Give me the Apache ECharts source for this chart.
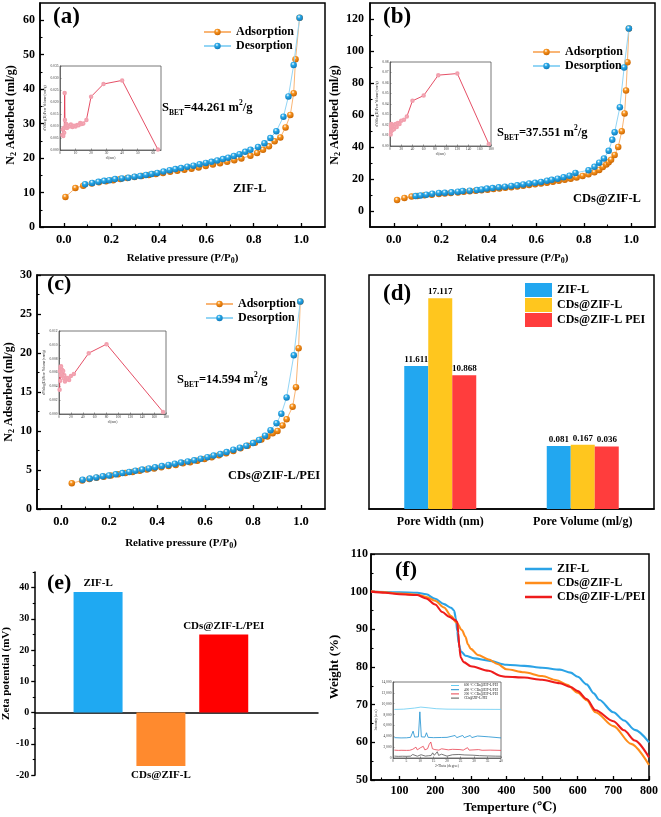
<!DOCTYPE html>
<html><head><meta charset="utf-8">
<script src="https://cdn.jsdelivr.net/npm/echarts@6/dist/echarts.min.js"></script>
<style>html,body{margin:0;padding:0;background:#fff}#c{width:661px;height:817px}</style>
</head><body><div id="c"></div>
<script>
// ---------------- DATA ----------------
// (a) ZIF-L isotherm  [P/P0, ml/g]
const adsA = [[0.007,8.7],[0.049,11.3],[0.082,12.0],[0.118,12.6],[0.148,13.0],[0.178,13.3],[0.208,13.6],[0.238,13.9],[0.268,14.2],[0.298,14.5],[0.328,14.8],[0.358,15.1],[0.388,15.4],[0.418,15.7],[0.448,16.0],[0.478,16.3],[0.508,16.6],[0.538,16.9],[0.568,17.3],[0.598,17.7],[0.628,18.1],[0.658,18.5],[0.688,18.9],[0.718,19.4],[0.748,19.9],[0.786,20.7],[0.814,21.5],[0.839,22.4],[0.864,23.4],[0.888,24.9],[0.912,26.0],[0.934,28.9],[0.954,32.5],[0.968,38.8],[0.976,48.7],[0.993,60.7]];
const desA = [[0.09,12.4],[0.12,12.8],[0.146,13.1],[0.17,13.4],[0.192,13.6],[0.216,13.9],[0.245,14.1],[0.272,14.3],[0.298,14.6],[0.322,14.8],[0.346,15.1],[0.37,15.4],[0.394,15.7],[0.42,16.1],[0.446,16.5],[0.47,16.8],[0.494,17.1],[0.52,17.5],[0.546,17.8],[0.572,18.2],[0.598,18.6],[0.622,18.9],[0.646,19.3],[0.67,19.7],[0.692,20.1],[0.716,20.6],[0.74,21.1],[0.764,21.8],[0.786,22.4],[0.818,23.2],[0.845,24.3],[0.87,25.8],[0.895,27.8],[0.925,32.0],[0.946,37.9],[0.968,47.0],[0.993,60.7]];
// (b) CDs@ZIF-L isotherm
const adsB = [[0.014,6.8],[0.045,8.1],[0.075,9.0],[0.1,9.4],[0.13,9.8],[0.16,10.2],[0.19,10.6],[0.215,11.0],[0.24,11.3],[0.27,11.6],[0.295,12.0],[0.32,12.3],[0.345,12.6],[0.37,13.0],[0.395,13.3],[0.42,13.7],[0.445,14.1],[0.47,14.5],[0.495,14.9],[0.52,15.3],[0.545,15.8],[0.57,16.2],[0.595,16.7],[0.62,17.2],[0.645,17.7],[0.67,18.3],[0.695,18.9],[0.72,19.5],[0.745,20.2],[0.77,21.0],[0.795,21.9],[0.82,22.9],[0.845,24.2],[0.865,25.7],[0.88,27.5],[0.895,29.0],[0.905,30.5],[0.915,32.0],[0.93,35.0],[0.945,40.0],[0.96,49.8],[0.972,61.0],[0.978,75.3],[0.984,93.0],[0.99,114]];
const desB = [[0.092,9.3],[0.113,9.7],[0.137,10.2],[0.162,10.8],[0.19,11.3],[0.215,11.4],[0.243,11.7],[0.27,12.1],[0.29,12.5],[0.32,12.7],[0.35,13.1],[0.37,13.5],[0.392,14.0],[0.416,14.3],[0.442,14.8],[0.468,15.2],[0.495,15.7],[0.52,16.1],[0.545,16.6],[0.57,17.2],[0.595,17.6],[0.62,18.2],[0.645,18.9],[0.665,19.5],[0.69,20.2],[0.715,21.1],[0.74,22.0],[0.765,23.8],[0.82,25.5],[0.845,27.6],[0.865,30.2],[0.885,32.8],[0.905,37.6],[0.92,44.5],[0.93,49.2],[0.952,64.8],[0.97,89.7],[0.99,114]];
// (c) CDs@ZIF-L/PEI isotherm
const adsC = [[0.045,3.3],[0.088,3.65],[0.118,3.85],[0.148,4.0],[0.178,4.15],[0.208,4.3],[0.238,4.45],[0.268,4.6],[0.298,4.75],[0.328,4.9],[0.358,5.05],[0.388,5.2],[0.418,5.35],[0.448,5.5],[0.478,5.65],[0.508,5.85],[0.538,6.0],[0.568,6.2],[0.598,6.4],[0.628,6.65],[0.658,6.9],[0.688,7.15],[0.718,7.45],[0.748,7.8],[0.778,8.1],[0.808,8.5],[0.835,8.9],[0.86,9.3],[0.882,9.7],[0.902,10.0],[0.923,10.7],[0.94,11.5],[0.965,13.1],[0.979,15.6],[0.99,20.6],[0.997,26.6]];
const desC = [[0.09,3.75],[0.12,3.9],[0.147,4.05],[0.174,4.2],[0.2,4.3],[0.228,4.45],[0.256,4.6],[0.284,4.75],[0.31,4.9],[0.338,5.05],[0.366,5.2],[0.392,5.35],[0.42,5.5],[0.448,5.65],[0.474,5.8],[0.5,5.95],[0.528,6.1],[0.555,6.25],[0.582,6.45],[0.61,6.65],[0.636,6.85],[0.664,7.05],[0.69,7.3],[0.718,7.6],[0.745,7.85],[0.772,8.1],[0.8,8.45],[0.825,8.85],[0.85,9.4],[0.873,10.1],[0.898,11.0],[0.918,12.2],[0.94,14.3],[0.97,19.7],[0.997,26.6]];
// pore size distribution insets [d nm, dV/dlogD]
const psdA = [[1.5,0.0062],[1.8,0.0085],[2.1,0.0058],[2.4,0.0092],[2.7,0.0072],[3.0,0.0238],[3.2,0.0125],[3.5,0.0095],[4,0.0108],[4.5,0.0092],[5,0.0102],[6,0.0098],[7,0.0106],[8,0.0096],[9,0.0101],[10,0.0098],[11,0.0104],[12,0.0103],[13,0.0112],[14,0.0108],[15,0.011],[17,0.0125],[20,0.0222],[28,0.0275],[40,0.029],[63,0.0002]];
const psdB = [[1.2,0.011],[1.6,0.019],[2,0.014],[2.4,0.021],[2.8,0.016],[3.3,0.02],[3.8,0.015],[4.3,0.019],[5,0.017],[6,0.02],[7,0.016],[8,0.019],[10,0.021],[12,0.018],[14,0.022],[17,0.021],[20,0.024],[25,0.025],[30,0.028],[40,0.043],[60,0.048],[86,0.0675],[120,0.069],[176,0.002]];
const psdC = [[1,0.0035],[1.5,0.0062],[2,0.0048],[2.5,0.0068],[3,0.0056],[3.5,0.0069],[4,0.0058],[5,0.0064],[6,0.0055],[7,0.0062],[8,0.0052],[9,0.0056],[10,0.0047],[12,0.0050],[14,0.0052],[17,0.0049],[20,0.0055],[25,0.0058],[50,0.0088],[80,0.0101],[175,0.0003]];
// (d) pore structure
const poreCats = ['Pore Width (nm)', 'Pore Volume (ml/g)'];
const sampleD = ['ZIF-L', 'CDs@ZIF-L', 'CDs@ZIF-L PEI'];
const poreWidth = [11.611, 17.117, 10.868];
const poreVolume = [0.081, 0.167, 0.036];
const poreVolumeBar = [5.12, 5.22, 5.08]; // bar heights as drawn in the figure (pore-width axis units)
// (e) zeta potential
const zetaNames = ['ZIF-L', 'CDs@ZIF-L', 'CDs@ZIF-L/PEI'];
const zetaSlot = [1, 2, 3];
const zeta = [38.6, -17.1, 25.0];
// (f) TGA [T °C, wt %]
const tgaZ = [[20,100],[60,99.9],[100,99.8],[150,99.7],[175,99.3],[200,98.1],[225,96.7],[245,95.7],[253,95.0],[258,93.0],[262,89.5],[266,86.3],[272,84.2],[285,83.0],[310,82.3],[350,81.7],[400,80.6],[450,80.3],[500,79.8],[550,79.3],[580,78.5],[600,77.4],[625,75.4],[645,73.0],[660,71.3],[700,68.0],[730,65.8],[760,63.3],[800,60.0]];
const tgaC = [[20,100.1],[60,99.8],[100,99.5],[150,99.2],[175,98.6],[200,97.6],[225,95.8],[245,93.5],[260,91.8],[275,89.8],[285,88.0],[292,86.0],[300,84.8],[320,83.2],[350,82.0],[375,80.8],[400,79.4],[450,78.6],[500,77.6],[540,76.5],[570,75.3],[600,73.2],[625,71.2],[650,68.0],[700,64.3],[750,59.6],[800,54.0]];
const tgaP = [[20,100],[60,99.7],[100,99.3],[150,99.1],[175,98.2],[200,96.6],[220,94.6],[240,93.3],[255,92.5],[262,92.0],[265,89],[268,85],[272,82.5],[280,81.3],[300,80.2],[350,79.0],[385,77.6],[400,77.4],[450,77.2],[500,76.6],[550,75.7],[580,74.7],[600,73.6],[625,71.5],[650,68.5],[700,65.6],[730,63.2],[760,60.5],[800,56.0]];
const tgaNames = ['ZIF-L', 'CDs@ZIF-L', 'CDs@ZIF-L/PEI'];
// (f) inset XRD [2θ, intensity]
const xrdNames = ['600 °C CDs@ZIF-L/PEI', '400 °C CDs@ZIF-L/PEI', '200 °C CDs@ZIF-L/PEI', 'CDs@ZIF-L/PEI'];
const xrd600 = [[0.5,8950],[4,9000],[8,9200],[10.3,9380],[13,9250],[16,9080],[20,9000],[30,8970],[40,8950]];
const xrd400 = [[0.5,3750],[3,3700],[5,3720],[6.5,3800],[7.45,4950],[8,3850],[9.4,3900],[9.95,8500],[10.5,3900],[11.8,3850],[12.4,4650],[13,3800],[15,3750],[18,3780],[20,3800],[23,4150],[23.6,3750],[25.8,4150],[26.4,3750],[28.6,4150],[29.2,3760],[31.3,4050],[32,3740],[35.5,3900],[36,3720],[40,3700]];
const xrd200 = [[0.5,1450],[2,1400],[2.5,1700],[3,1420],[5,1400],[5.6,1750],[6.2,1420],[7.3,1600],[8.5,2000],[9,1500],[10.2,1900],[10.7,1550],[11.2,2150],[11.8,1500],[12.8,1700],[13.4,2500],[14.0,2950],[14.6,1700],[15.5,1550],[17,1450],[18,1700],[18.5,1450],[20.5,1500],[22,1600],[24.8,1550],[26,1450],[27.6,1900],[28.2,1450],[30,1500],[31.7,1550],[33,1420],[36,1450],[40,1400]];
const xrdRaw = [[0.5,350],[2,300],[3.5,330],[5,310],[6.5,340],[7.3,650],[7.8,360],[9,330],[10.4,600],[10.9,380],[12,350],[12.7,700],[13.2,420],[14.1,450],[14.7,950],[15.3,500],[16,650],[16.4,1150],[16.9,480],[18,700],[18.5,380],[20,340],[22,600],[22.5,360],[24.4,650],[24.9,380],[26.6,560],[27.1,360],[29.6,520],[30.1,340],[32,430],[32.5,330],[35,380],[35.5,320],[38,340],[40,330]];
// tick lists
const pTicks = [0, 0.2, 0.4, 0.6, 0.8, 1.0];
const pMinor = [0.1, 0.3, 0.5, 0.7, 0.9];
const yTicksA = [0, 10, 20, 30, 40, 50, 60];
const yMinorA = [5, 15, 25, 35, 45, 55];
const yTicksB = [0, 20, 40, 60, 80, 100, 120];
const yMinorB = [10, 30, 50, 70, 90, 110];
const yTicksC = [0, 5, 10, 15, 20, 25, 30];
const yMinorC = [2.5, 7.5, 12.5, 17.5, 22.5, 27.5];
const zetaTicks = [-20, -10, 0, 10, 20, 30, 40];
const zetaMinor = [-15, -5, 5, 15, 25, 35, 45];
const tempTicks = [100, 200, 300, 400, 500, 600, 700, 800];
const tempMinor = [50, 150, 250, 350, 450, 550, 650, 750];
const wTicks = [50, 60, 70, 80, 90, 100, 110];
const wMinor = [55, 65, 75, 85, 95, 105];

// ---------------- BUILD ----------------
const FONT = '"Times New Roman","Liberation Serif","DejaVu Serif",serif';
const ts = (size, extra) => Object.assign({fontFamily: FONT, fontWeight: 'bold', fontSize: size, color: '#000'}, extra || {});
const grids = [], xAxes = [], yAxes = [], series = [], legends = [], graphics = [];
const grid = (l, t, w, h, extra) => { grids.push(Object.assign({left: l, top: t, width: w, height: h}, extra || {})); return grids.length - 1; };
const xa = o => { xAxes.push(o); return xAxes.length - 1; };
const ya = o => { yAxes.push(o); return yAxes.length - 1; };
const BL = {show: true, onZero: false, lineStyle: {color: '#000', width: 1.5}};
const TK = (vals, inside) => ({show: true, customValues: vals, length: 4, inside: inside, lineStyle: {color: '#000', width: 1.3}});
// minor tick overlays (no line, no labels)
const minorX = (gi, min, max, vals, inside) => xa({gridIndex: gi, type: 'value', position: 'bottom', min: min, max: max,
  axisLine: {show: false, onZero: false}, axisLabel: {show: false}, splitLine: {show: false},
  axisTick: {show: true, inside: inside, customValues: vals, length: 2.5, lineStyle: {color: '#000', width: 1.1}}});
const minorY = (gi, min, max, vals, inside) => ya({gridIndex: gi, type: 'value', position: 'left', min: min, max: max,
  axisLine: {show: false, onZero: false}, axisLabel: {show: false}, splitLine: {show: false},
  axisTick: {show: true, inside: inside, customValues: vals, length: 2.5, lineStyle: {color: '#000', width: 1.1}}});
const ORANGE = '#F7931E', BLUE = '#29A9E8';
const ball = (c, dark) => ({type: 'radial', x: 0.4, y: 0.32, r: 0.7, colorStops: [{offset: 0, color: '#ffffff'}, {offset: 0.35, color: c}, {offset: 1, color: dark}]});
const subRich = {s: ts(8, {lineHeight: 8, verticalAlign: 'bottom'})};

function iso(key, g, ymin, ymax, yTicks, yMinor, ads, des, o) {
  const gi = grid(g[0], g[1], g[2], g[3], {show: true, borderColor: '#000', borderWidth: 1.5});
  const xi = xa({gridIndex: gi, type: 'value', position: 'bottom', min: -0.1, max: 1.1, axisLine: BL, axisTick: TK(pTicks, true),
    axisLabel: Object.assign({customValues: pTicks, formatter: v => v.toFixed(1), margin: 6}, ts(12.5)), splitLine: {show: false},
    name: 'Relative pressure (P/P{s|0})', nameLocation: 'middle', nameGap: o.xg,
    nameTextStyle: ts(11, {lineHeight: 14, rich: subRich})});
  const yi = ya({gridIndex: gi, type: 'value', position: 'left', min: ymin, max: ymax, axisLine: BL, axisTick: TK(yTicks, true),
    axisLabel: Object.assign({customValues: yTicks, margin: o.ym}, ts(12)), splitLine: {show: false},
    name: 'N{s|2} Adsorbed (ml/g)', nameLocation: 'middle', nameGap: o.yg,
    nameTextStyle: ts(12, {lineHeight: 14, rich: subRich})});
  minorX(gi, -0.1, 1.1, pMinor, true);
  minorY(gi, ymin, ymax, yMinor, true);
  series.push({name: key + ':Adsorption', type: 'line', xAxisIndex: xi, yAxisIndex: yi, data: ads, symbol: 'circle', symbolSize: 6.5,
    color: ORANGE, lineStyle: {color: '#F9B575', width: 1}, itemStyle: {color: ball(ORANGE, '#C96400')}, z: 3});
  series.push({name: key + ':Desorption', type: 'line', xAxisIndex: xi, yAxisIndex: yi, data: des, symbol: 'circle', symbolSize: 6.5,
    color: BLUE, lineStyle: {color: '#93D5F5', width: 1}, itemStyle: {color: ball(BLUE, '#0F78B8')}, z: 4});
  legends.push({left: o.lx, top: o.ly, orient: 'vertical', itemWidth: 27, itemHeight: 8, itemGap: 2, padding: 0, selectedMode: false,
    data: [key + ':Adsorption', key + ':Desorption'], formatter: n => n.slice(2), textStyle: ts(12)});
}
iso('a', [40, 3, 285, 224], 0, 65, yTicksA, yMinorA, adsA, desA, {xg: 24, ym: 5, yg: 22, lx: 203, ly: 26});
iso('b', [370, 3, 285, 224], -10, 130, yTicksB, yMinorB, adsB, desB, {xg: 24, ym: 6, yg: 28, lx: 532, ly: 46});
iso('c', [37, 275, 288, 234], 0, 30, yTicksC, yMinorC, adsC, desC, {xg: 27, ym: 5, yg: 21, lx: 205, ly: 298});

// insets (pore size distribution)
const insetLbl = extra => Object.assign({fontFamily: FONT, fontSize: 3.6, color: '#333', margin: 1.5}, extra || {});
function inset(key, g, xmax, xTicks, ymax, yInt, yDec, data) {
  const gi = grid(g[0], g[1], g[2], g[3], {show: true, backgroundColor: '#fff', borderColor: '#555', borderWidth: 0.8, z: 5});
  const xi = xa({gridIndex: gi, type: 'value', position: 'bottom', min: 0, max: xmax, z: 6,
    axisLine: {show: true, onZero: false, lineStyle: {color: '#555', width: 0.8}}, axisTick: {show: true, customValues: xTicks, length: 1.5, inside: true, lineStyle: {color: '#555', width: 0.6}},
    axisLabel: insetLbl({customValues: xTicks}), splitLine: {show: false},
    name: 'd (nm)', nameLocation: 'middle', nameGap: 6, nameTextStyle: {fontFamily: FONT, fontSize: 3.6, color: '#333'}});
  const yi = ya({gridIndex: gi, type: 'value', position: 'left', min: 0, max: ymax, interval: yInt, z: 6,
    axisLine: {show: true, onZero: false, lineStyle: {color: '#555', width: 0.8}}, axisTick: {show: true, length: 1.5, inside: true, lineStyle: {color: '#555', width: 0.6}},
    axisLabel: insetLbl({formatter: v => v.toFixed(yDec)}), splitLine: {show: false},
    name: 'dV/dlog(D) Pore Volume (cm³/g)', nameLocation: 'middle', nameGap: 10, nameTextStyle: {fontFamily: FONT, fontSize: 3.4, color: '#333'}});
  series.push({name: key + ':psd', type: 'line', xAxisIndex: xi, yAxisIndex: yi, data: data, symbol: 'emptyCircle', symbolSize: 2.5, z: 7,
    lineStyle: {color: '#E23B55', width: 0.9}, itemStyle: {color: '#F2A0AE', borderWidth: 0.6}});
}
inset('a', [60, 66, 101, 84], 65, [0, 10, 20, 30, 40, 50, 60], 0.035, 0.005, 3, psdA);
inset('b', [390, 62, 101, 84], 180, [0, 20, 40, 60, 80, 100, 120, 140, 160, 180], 0.08, 0.01, 2, psdB);
inset('c', [59, 331, 107, 83], 180, [0, 20, 40, 60, 80, 100, 120, 140, 160, 180], 0.012, 0.002, 3, psdC);

// (d) bars
const colD = ['#22A7F0', '#FFC61E', '#FF3D3D'];
{
  const gi = grid(369, 275, 285, 234, {show: true, borderColor: '#000', borderWidth: 1.5});
  const xi = xa({gridIndex: gi, type: 'category', position: 'bottom', data: poreCats, axisLine: {show: true, lineStyle: {color: '#000', width: 1.5}}, axisTick: {show: false},
    axisLabel: Object.assign({margin: 7}, ts(12))});
  const yi = ya({gridIndex: gi, type: 'value', position: 'left', min: 0, max: 19, axisLine: {show: false}, axisTick: {show: false}, axisLabel: {show: false}, splitLine: {show: false}});
  sampleD.forEach((nm, i) => {
    series.push({name: 'd:' + nm, type: 'bar', xAxisIndex: xi, yAxisIndex: yi, barWidth: 24, barGap: '0%', color: colD[i],
      data: [poreWidth[i], poreVolumeBar[i]],
      label: {show: true, position: 'top', distance: 2, formatter: p => (p.dataIndex === 0 ? poreWidth[i] : poreVolume[i]).toFixed(3), ...ts(9)}});
  });
  legends.push({left: 525, top: 283, orient: 'vertical', icon: 'rect', itemWidth: 27, itemHeight: 14, itemGap: 1, padding: 0, selectedMode: false,
    data: sampleD.map(n => 'd:' + n), formatter: n => n.slice(2), textStyle: ts(12)});
}

// (e) zeta potential
const colE = ['#1FA9F2', '#FF8A2E', '#FF0000'];
{
  const gi = grid(32, 572, 286, 203);
  const xi = xa({gridIndex: gi, type: 'value', position: 'bottom', min: 0, max: 4.5, axisLine: {show: true, onZero: true, lineStyle: {color: '#000', width: 1.5}},
    axisTick: {show: false}, axisLabel: {show: false}, splitLine: {show: false}});
  const yi = ya({gridIndex: gi, type: 'value', position: 'left', min: -20, max: 45, axisLine: BL, axisTick: TK(zetaTicks, false),
    axisLabel: Object.assign({customValues: zetaTicks, margin: 6}, ts(10)), splitLine: {show: false},
    name: 'Zeta potential (mV)', nameLocation: 'middle', nameGap: 21, nameTextStyle: ts(11)});
  minorY(gi, -20, 45, zetaMinor, false);
  series.push({name: 'e:zeta', type: 'bar', xAxisIndex: xi, yAxisIndex: yi, barWidth: 49,
    data: zeta.map((v, i) => ({value: [zetaSlot[i], v], itemStyle: {color: colE[i]},
      label: {show: true, position: v < 0 ? 'bottom' : 'top', distance: v < 0 ? 4 : 3}})),
    label: {formatter: p => zetaNames[p.dataIndex], ...ts(11)}});
}

// (f) TGA
const colF = ['#2BA3E6', '#FF8C1A', '#EE1C1C'];
const tgaData = [tgaZ, tgaC, tgaP];
{
  const gi = grid(371, 554, 281, 226, {show: true, borderColor: '#000', borderWidth: 1.5});
  const xi = xa({gridIndex: gi, type: 'value', position: 'bottom', min: 20, max: 800, axisLine: BL, axisTick: TK(tempTicks, true),
    axisLabel: Object.assign({customValues: tempTicks, margin: 5}, ts(12)), splitLine: {show: false},
    name: 'Temperture (℃)', nameLocation: 'middle', nameGap: 21, nameTextStyle: ts(13)});
  const yi = ya({gridIndex: gi, type: 'value', position: 'left', min: 50, max: 110, axisLine: BL, axisTick: TK(wTicks, true),
    axisLabel: Object.assign({customValues: wTicks, margin: 3}, ts(12)), splitLine: {show: false},
    name: 'Weight (%)', nameLocation: 'middle', nameGap: 30, nameTextStyle: ts(13)});
  minorX(gi, 20, 800, tempMinor, true);
  minorY(gi, 50, 110, wMinor, true);
  tgaNames.forEach((nm, i) => {
    series.push({name: 'f:' + nm, type: 'line', xAxisIndex: xi, yAxisIndex: yi, data: tgaData[i], symbol: 'none', smooth: 0.3, smoothMonotone: 'x',
      color: colF[i], lineStyle: {color: colF[i], width: 2.1}, z: 3 + (i === 2 ? 1 : 0)});
  });
  legends.push({left: 525, top: 563, orient: 'vertical', icon: 'rect', itemWidth: 27, itemHeight: 2.5, itemGap: 2, padding: 0, selectedMode: false,
    data: tgaNames.map(n => 'f:' + n), formatter: n => n.slice(2), textStyle: ts(12)});
}
// (f) inset XRD
const colX = ['#66CCF2', '#1C8FCF', '#E8404F', '#555555'];
const xrdData = [xrd600, xrd400, xrd200, xrdRaw];
{
  const gi = grid(393, 682, 108, 76, {show: true, backgroundColor: '#fff', borderColor: '#555', borderWidth: 0.8, z: 5});
  const xi = xa({gridIndex: gi, type: 'value', position: 'bottom', min: 0, max: 40, interval: 5, z: 6,
    axisLine: {show: true, onZero: false, lineStyle: {color: '#555', width: 0.8}}, axisTick: {show: true, length: 1.5, inside: true, lineStyle: {color: '#555', width: 0.6}},
    axisLabel: insetLbl(), splitLine: {show: false},
    name: '2-Theta (degree)', nameLocation: 'middle', nameGap: 6, nameTextStyle: {fontFamily: FONT, fontSize: 3.6, color: '#333'}});
  const yi = ya({gridIndex: gi, type: 'value', position: 'left', min: 0, max: 14000, interval: 2000, z: 6,
    axisLine: {show: true, onZero: false, lineStyle: {color: '#555', width: 0.8}}, axisTick: {show: true, length: 1.5, inside: true, lineStyle: {color: '#555', width: 0.6}},
    axisLabel: insetLbl(), splitLine: {show: false},
    name: 'Intensity (a.u.)', nameLocation: 'middle', nameGap: 12, nameTextStyle: {fontFamily: FONT, fontSize: 3.6, color: '#333'}});
  xrdNames.forEach((nm, i) => {
    series.push({name: 'x:' + nm, type: 'line', xAxisIndex: xi, yAxisIndex: yi, data: xrdData[i], symbol: 'none', z: 7,
      color: colX[i], lineStyle: {color: colX[i], width: 0.8}});
  });
  legends.push({left: 451, top: 684, orient: 'vertical', icon: 'rect', itemWidth: 8, itemHeight: 1, itemGap: 1.2, padding: 0, selectedMode: false, z: 8,
    data: xrdNames.map(n => 'x:' + n), formatter: n => n.slice(2), textStyle: {fontFamily: FONT, fontSize: 3.4, color: '#222'}});
}

// annotations
const txt = (x, y, text, size, extra) => graphics.push({type: 'text', x: x, y: y, z: 100,
  style: Object.assign({text: text, fontFamily: FONT, fontWeight: 'bold', fontSize: size, fill: '#000', align: 'left', verticalAlign: 'middle'}, extra || {})});
const bet = {lineHeight: 18, rich: {
  s: {fontFamily: FONT, fontWeight: 'bold', fontSize: 7.5, lineHeight: 9, verticalAlign: 'bottom'},
  p: {fontFamily: FONT, fontWeight: 'bold', fontSize: 7.5, lineHeight: 9, verticalAlign: 'top'}}};
txt(53, 17, '(a)', 23); txt(383, 17, '(b)', 23); txt(47, 284, '(c)', 22);
txt(383, 294, '(d)', 23); txt(47, 583, '(e)', 22); txt(395, 570, '(f)', 22);
txt(162, 108, 'S{s|BET}=44.261 m{p|2}/g', 12.5, bet);
txt(497, 133, 'S{s|BET}=37.551 m{p|2}/g', 12.5, bet);
txt(177, 380, 'S{s|BET}=14.594 m{p|2}/g', 12.5, bet);
txt(233, 189, 'ZIF-L', 12.5);
txt(573, 199, 'CDs@ZIF-L', 12.5);
txt(228, 476, 'CDs@ZIF-L/PEI', 12.5);

const chart = echarts.init(document.getElementById('c'), null, {renderer: 'canvas'});
chart.setOption({
  animation: false, backgroundColor: '#fff', textStyle: {fontFamily: FONT},
  grid: grids, xAxis: xAxes, yAxis: yAxes, series: series, legend: legends, graphic: graphics
});
</script></body></html>
